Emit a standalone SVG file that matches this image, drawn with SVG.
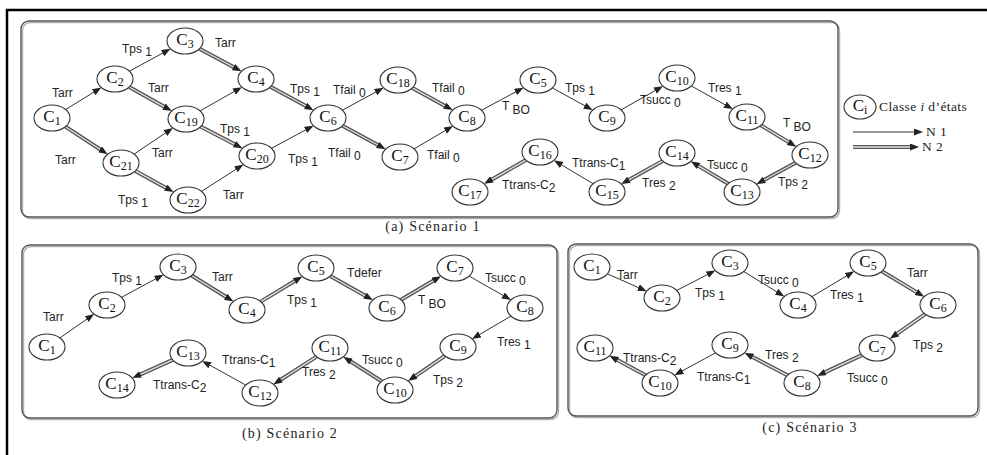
<svg xmlns="http://www.w3.org/2000/svg" width="987" height="455" viewBox="0 0 987 455">
<defs>
<marker id="ah" markerUnits="userSpaceOnUse" markerWidth="10" markerHeight="8" refX="3" refY="3.5" orient="auto"><path d="M0,0 L9,3.5 L0,7 z" fill="#222"/></marker>
</defs>
<style>
.frame{fill:none;stroke:#000;stroke-width:2.5}
.panel{fill:none;stroke:#555;stroke-width:1.4}
.shadow{fill:none;stroke:#b0b0b0;stroke-width:1.4}
.n ellipse{fill:#fff;stroke:#333;stroke-width:1.1}
.n text{font-family:"Liberation Serif",serif;font-size:17px;fill:#111;text-anchor:middle}
.n tspan{font-size:12px}
.s{fill:none;stroke:#333;stroke-width:1;marker-end:url(#ah)}
.do{fill:none;stroke:#555;stroke-width:4}
.di{fill:none;stroke:#e6e6e6;stroke-width:1.3;marker-end:url(#ah)}
.lb{font-family:"Liberation Sans",Arial,sans-serif;font-size:12px;fill:#222}
.cap{font-family:"Liberation Serif",serif;font-size:14px;fill:#222;text-anchor:middle;letter-spacing:1.2px}
.leg{font-family:"Liberation Serif",serif;font-size:13.5px;fill:#222;letter-spacing:0.4px}
</style>
<rect width="987" height="455" fill="#fff"/>
<path class="frame" d="M7,455 L7,10 L987,10"/>

<g id="panels">
<rect class="shadow" x="22.5" y="22.5" width="817" height="196" rx="8"/>
<rect class="panel" x="21" y="21" width="817" height="196" rx="8"/>
<rect class="shadow" x="23.5" y="246.5" width="535" height="173" rx="8"/>
<rect class="panel" x="22" y="245" width="535" height="173" rx="8"/>
<rect class="shadow" x="569.5" y="245.5" width="410" height="172" rx="8"/>
<rect class="panel" x="568" y="244" width="410" height="172" rx="8"/>
<text class="cap" x="433" y="231">(a) Scénario 1</text>
<text class="cap" x="290" y="438">(b) Scénario 2</text>
<text class="cap" x="810" y="432">(c) Scénario 3</text>
</g>

<g id="connectors">
<!-- panel a -->
<path class="s" d="M65.7,109.5 L96.2,90.7"/>
<path class="do" d="M65.4,126.7 L102.6,151"/><path class="di" d="M65.4,126.7 L102.6,151"/>
<path class="s" d="M129.4,71.2 L165.3,51.7"/>
<path class="do" d="M129.2,87 L166.6,108.1"/><path class="di" d="M129.2,87 L166.6,108.1"/>
<path class="do" d="M199.5,48.7 L236.2,68.5"/><path class="di" d="M199.5,48.7 L236.2,68.5"/>
<path class="s" d="M134.1,154.1 L167.9,131.3"/>
<path class="s" d="M200.1,110.9 L236.7,90.1"/>
<path class="do" d="M200.6,126.6 L237.1,145.6"/><path class="di" d="M200.6,126.6 L237.1,145.6"/>
<path class="do" d="M135.3,170.9 L168.4,189.2"/><path class="di" d="M135.3,170.9 L168.4,189.2"/>
<path class="s" d="M201.5,191.4 L238.4,167.8"/>
<path class="do" d="M270.4,86.8 L308.3,107.3"/><path class="di" d="M270.4,86.8 L308.3,107.3"/>
<path class="s" d="M271.5,148.3 L308.2,128.5"/>
<path class="s" d="M342.4,110.2 L378.3,90.7"/>
<path class="do" d="M342.4,125.8 L380.3,146.3"/><path class="di" d="M342.4,125.8 L380.3,146.3"/>
<path class="do" d="M412.3,87.9 L447.4,107.2"/><path class="di" d="M412.3,87.9 L447.4,107.2"/>
<path class="s" d="M414,148.9 L447.8,129.1"/>
<path class="s" d="M481.5,110.3 L518.2,90.5"/>
<path class="s" d="M552.3,87.9 L587.4,107.2"/>
<path class="s" d="M621.1,109.9 L657.7,89.1"/>
<path class="s" d="M691.2,85.9 L727.6,106.2"/>
<path class="do" d="M760.8,125.3 L791.1,143.6"/><path class="di" d="M760.8,125.3 L791.1,143.6"/>
<path class="do" d="M795.6,162.8 L761.7,181.3"/><path class="di" d="M795.6,162.8 L761.7,181.3"/>
<path class="do" d="M728.2,183.7 L695.9,164.4"/><path class="di" d="M728.2,183.7 L695.9,164.4"/>
<path class="do" d="M662.8,160.9 L626.4,181.2"/><path class="di" d="M662.8,160.9 L626.4,181.2"/>
<path class="s" d="M593.1,183.7 L559.1,163.4"/>
<path class="do" d="M525.9,160.1 L489.3,180.9"/><path class="di" d="M525.9,160.1 L489.3,180.9"/>
<!-- panel b -->
<path class="s" d="M59.9,337.9 L89.2,317.5"/>
<path class="s" d="M121.5,297.3 L158.2,277.5"/>
<path class="do" d="M191.6,275.5 L228.3,298.3"/><path class="di" d="M191.6,275.5 L228.3,298.3"/>
<path class="do" d="M260.7,301.6 L297.2,279.5"/><path class="di" d="M260.7,301.6 L297.2,279.5"/>
<path class="do" d="M330.2,276 L367.6,297.1"/><path class="di" d="M330.2,276 L367.6,297.1"/>
<path class="do" d="M401,299.8 L435.8,279.2"/><path class="di" d="M401,299.8 L435.8,279.2"/>
<path class="s" d="M469.1,276.1 L505.7,296.9"/>
<path class="s" d="M511,316.1 L477.2,335.9"/>
<path class="do" d="M444.9,355.9 L413.1,377.7"/><path class="di" d="M444.9,355.9 L413.1,377.7"/>
<path class="do" d="M381.6,381.3 L348.4,360"/><path class="di" d="M381.6,381.3 L348.4,360"/>
<path class="do" d="M316.6,356.6 L278.4,381.2"/><path class="di" d="M316.6,356.6 L278.4,381.2"/>
<path class="s" d="M245.8,385.1 L207.4,363.8"/>
<path class="do" d="M172.7,359.9 L137.8,375.6"/><path class="di" d="M172.7,359.9 L137.8,375.6"/>
<!-- panel c -->
<path class="s" d="M607.3,273.8 L641.2,288.8"/>
<path class="s" d="M676.7,290.4 L710,273.3"/>
<path class="s" d="M743.7,271.5 L779.2,293.3"/>
<path class="s" d="M811.9,296.7 L849,274.4"/>
<path class="do" d="M881.9,271.3 L919,293.6"/><path class="di" d="M881.9,271.3 L919,293.6"/>
<path class="do" d="M925.1,314.1 L894.8,335.4"/><path class="di" d="M925.1,314.1 L894.8,335.4"/>
<path class="do" d="M861.9,355.1 L822.5,373.4"/><path class="di" d="M861.9,355.1 L822.5,373.4"/>
<path class="do" d="M787.5,375.3 L749.8,355.5"/><path class="di" d="M787.5,375.3 L749.8,355.5"/>
<path class="s" d="M715.6,352.8 L679.7,372.3"/>
<path class="do" d="M645.6,375.2 L614.7,358.6"/><path class="di" d="M645.6,375.2 L614.7,358.6"/>
<!-- legend -->
<path class="s" d="M853,132 L917,132"/>
<path class="do" d="M853,147 L913,147"/><path class="di" d="M853,147 L913,147"/>
</g>

<g id="edge-labels" class="lb">
<text x="52" y="97">Tarr</text>
<text x="55" y="164">Tarr</text>
<text x="122" y="53">Tps <tspan dy="3">1</tspan></text>
<text x="148" y="92">Tarr</text>
<text x="215" y="47">Tarr</text>
<text x="152" y="157">Tarr</text>
<text x="220" y="133">Tps <tspan dy="3">1</tspan></text>
<text x="118" y="204">Tps <tspan dy="3">1</tspan></text>
<text x="223" y="199">Tarr</text>
<text x="290" y="93">Tps <tspan dy="3">1</tspan></text>
<text x="288" y="163">Tps <tspan dy="3">1</tspan></text>
<text x="333" y="94">Tfail <tspan dy="3">0</tspan></text>
<text x="328" y="157">Tfail <tspan dy="3">0</tspan></text>
<text x="432" y="92">Tfail <tspan dy="3">0</tspan></text>
<text x="427" y="159">Tfail <tspan dy="3">0</tspan></text>
<text x="502" y="110">T <tspan dy="4">BO</tspan></text>
<text x="565" y="92">Tps <tspan dy="3">1</tspan></text>
<text x="640" y="104">Tsucc <tspan dy="3">0</tspan></text>
<text x="708" y="92">Tres <tspan dy="3">1</tspan></text>
<text x="783" y="127">T <tspan dy="4">BO</tspan></text>
<text x="778" y="186">Tps <tspan dy="3">2</tspan></text>
<text x="707" y="169">Tsucc <tspan dy="3">0</tspan></text>
<text x="642" y="187">Tres <tspan dy="3">2</tspan></text>
<text x="572" y="167">Ttrans-C<tspan dy="3">1</tspan></text>
<text x="502" y="189">Ttrans-C<tspan dy="3">2</tspan></text>

<text x="43" y="321">Tarr</text>
<text x="112" y="282">Tps <tspan dy="3">1</tspan></text>
<text x="212" y="281">Tarr</text>
<text x="287" y="304">Tps <tspan dy="3">1</tspan></text>
<text x="347" y="277">Tdefer</text>
<text x="418" y="304">T <tspan dy="4">BO</tspan></text>
<text x="485" y="282">Tsucc <tspan dy="3">0</tspan></text>
<text x="497" y="346">Tres <tspan dy="3">1</tspan></text>
<text x="433" y="384">Tps <tspan dy="3">2</tspan></text>
<text x="362" y="364">Tsucc <tspan dy="3">0</tspan></text>
<text x="302" y="376">Tres <tspan dy="3">2</tspan></text>
<text x="222" y="364">Ttrans-C<tspan dy="3">1</tspan></text>
<text x="153" y="389">Ttrans-C<tspan dy="3">2</tspan></text>

<text x="617" y="279">Tarr</text>
<text x="695" y="297">Tps <tspan dy="3">1</tspan></text>
<text x="758" y="284">Tsucc <tspan dy="3">0</tspan></text>
<text x="830" y="299">Tres <tspan dy="3">1</tspan></text>
<text x="907" y="277">Tarr</text>
<text x="913" y="349">Tps <tspan dy="3">2</tspan></text>
<text x="847" y="382">Tsucc <tspan dy="3">0</tspan></text>
<text x="765" y="359">Tres <tspan dy="3">2</tspan></text>
<text x="697" y="381">Ttrans-C<tspan dy="3">1</tspan></text>
<text x="623" y="362">Ttrans-C<tspan dy="3">2</tspan></text>
</g>

<!-- panel a nodes -->
<g id="a-C1" class="n"><ellipse cx="52" cy="118" rx="18" ry="13"/><text x="52" y="122">C<tspan dy="3">1</tspan></text></g>
<g id="a-C2" class="n"><ellipse cx="115" cy="79" rx="18" ry="13"/><text x="115" y="83">C<tspan dy="3">2</tspan></text></g>
<g id="a-C3" class="n"><ellipse cx="185" cy="41" rx="18" ry="13"/><text x="185" y="45">C<tspan dy="3">3</tspan></text></g>
<g id="a-C4" class="n"><ellipse cx="256" cy="79" rx="18" ry="13"/><text x="256" y="83">C<tspan dy="3">4</tspan></text></g>
<g id="a-C19" class="n"><ellipse cx="186" cy="119" rx="18" ry="13"/><text x="186" y="123">C<tspan dy="3">19</tspan></text></g>
<g id="a-C21" class="n"><ellipse cx="121" cy="163" rx="18" ry="13"/><text x="121" y="167">C<tspan dy="3">21</tspan></text></g>
<g id="a-C20" class="n"><ellipse cx="257" cy="156" rx="18" ry="13"/><text x="257" y="160">C<tspan dy="3">20</tspan></text></g>
<g id="a-C22" class="n"><ellipse cx="188" cy="200" rx="18" ry="13"/><text x="188" y="204">C<tspan dy="3">22</tspan></text></g>
<g id="a-C6" class="n"><ellipse cx="328" cy="118" rx="18" ry="13"/><text x="328" y="122">C<tspan dy="3">6</tspan></text></g>
<g id="a-C18" class="n"><ellipse cx="398" cy="80" rx="18" ry="13"/><text x="398" y="84">C<tspan dy="3">18</tspan></text></g>
<g id="a-C7" class="n"><ellipse cx="400" cy="157" rx="18" ry="13"/><text x="400" y="161">C<tspan dy="3">7</tspan></text></g>
<g id="a-C8" class="n"><ellipse cx="467" cy="118" rx="18" ry="13"/><text x="467" y="122">C<tspan dy="3">8</tspan></text></g>
<g id="a-C5" class="n"><ellipse cx="538" cy="80" rx="18" ry="13"/><text x="538" y="84">C<tspan dy="3">5</tspan></text></g>
<g id="a-C9" class="n"><ellipse cx="607" cy="118" rx="18" ry="13"/><text x="607" y="122">C<tspan dy="3">9</tspan></text></g>
<g id="a-C10" class="n"><ellipse cx="677" cy="78" rx="18" ry="13"/><text x="677" y="82">C<tspan dy="3">10</tspan></text></g>
<g id="a-C11" class="n"><ellipse cx="747" cy="117" rx="18" ry="13"/><text x="747" y="121">C<tspan dy="3">11</tspan></text></g>
<g id="a-C12" class="n"><ellipse cx="810" cy="155" rx="18" ry="13"/><text x="810" y="159">C<tspan dy="3">12</tspan></text></g>
<g id="a-C13" class="n"><ellipse cx="742" cy="192" rx="18" ry="13"/><text x="742" y="196">C<tspan dy="3">13</tspan></text></g>
<g id="a-C14" class="n"><ellipse cx="677" cy="153" rx="18" ry="13"/><text x="677" y="157">C<tspan dy="3">14</tspan></text></g>
<g id="a-C15" class="n"><ellipse cx="607" cy="192" rx="18" ry="13"/><text x="607" y="196">C<tspan dy="3">15</tspan></text></g>
<g id="a-C16" class="n"><ellipse cx="540" cy="152" rx="18" ry="13"/><text x="540" y="156">C<tspan dy="3">16</tspan></text></g>
<g id="a-C17" class="n"><ellipse cx="470" cy="192" rx="18" ry="13"/><text x="470" y="196">C<tspan dy="3">17</tspan></text></g>

<!-- panel b nodes -->
<g id="b-C1" class="n"><ellipse cx="47" cy="347" rx="18" ry="13"/><text x="47" y="351">C<tspan dy="3">1</tspan></text></g>
<g id="b-C2" class="n"><ellipse cx="107" cy="305" rx="18" ry="13"/><text x="107" y="309">C<tspan dy="3">2</tspan></text></g>
<g id="b-C3" class="n"><ellipse cx="178" cy="267" rx="18" ry="13"/><text x="178" y="271">C<tspan dy="3">3</tspan></text></g>
<g id="b-C4" class="n"><ellipse cx="247" cy="310" rx="18" ry="13"/><text x="247" y="314">C<tspan dy="3">4</tspan></text></g>
<g id="b-C5" class="n"><ellipse cx="316" cy="268" rx="18" ry="13"/><text x="316" y="272">C<tspan dy="3">5</tspan></text></g>
<g id="b-C6" class="n"><ellipse cx="387" cy="308" rx="18" ry="13"/><text x="387" y="312">C<tspan dy="3">6</tspan></text></g>
<g id="b-C7" class="n"><ellipse cx="455" cy="268" rx="18" ry="13"/><text x="455" y="272">C<tspan dy="3">7</tspan></text></g>
<g id="b-C8" class="n"><ellipse cx="525" cy="308" rx="18" ry="13"/><text x="525" y="312">C<tspan dy="3">8</tspan></text></g>
<g id="b-C9" class="n"><ellipse cx="458" cy="347" rx="18" ry="13"/><text x="458" y="351">C<tspan dy="3">9</tspan></text></g>
<g id="b-C10" class="n"><ellipse cx="395" cy="390" rx="18" ry="13"/><text x="395" y="394">C<tspan dy="3">10</tspan></text></g>
<g id="b-C11" class="n"><ellipse cx="330" cy="348" rx="18" ry="13"/><text x="330" y="352">C<tspan dy="3">11</tspan></text></g>
<g id="b-C12" class="n"><ellipse cx="260" cy="393" rx="18" ry="13"/><text x="260" y="397">C<tspan dy="3">12</tspan></text></g>
<g id="b-C13" class="n"><ellipse cx="188" cy="353" rx="18" ry="13"/><text x="188" y="357">C<tspan dy="3">13</tspan></text></g>
<g id="b-C14" class="n"><ellipse cx="117" cy="385" rx="18" ry="13"/><text x="117" y="389">C<tspan dy="3">14</tspan></text></g>

<!-- panel c nodes -->
<g id="c-C1" class="n"><ellipse cx="592" cy="267" rx="18" ry="13"/><text x="592" y="271">C<tspan dy="3">1</tspan></text></g>
<g id="c-C2" class="n"><ellipse cx="662" cy="298" rx="18" ry="13"/><text x="662" y="302">C<tspan dy="3">2</tspan></text></g>
<g id="c-C3" class="n"><ellipse cx="730" cy="263" rx="18" ry="13"/><text x="730" y="267">C<tspan dy="3">3</tspan></text></g>
<g id="c-C4" class="n"><ellipse cx="798" cy="305" rx="18" ry="13"/><text x="798" y="309">C<tspan dy="3">4</tspan></text></g>
<g id="c-C5" class="n"><ellipse cx="868" cy="263" rx="18" ry="13"/><text x="868" y="267">C<tspan dy="3">5</tspan></text></g>
<g id="c-C6" class="n"><ellipse cx="938" cy="305" rx="18" ry="13"/><text x="938" y="309">C<tspan dy="3">6</tspan></text></g>
<g id="c-C7" class="n"><ellipse cx="877" cy="348" rx="18" ry="13"/><text x="877" y="352">C<tspan dy="3">7</tspan></text></g>
<g id="c-C8" class="n"><ellipse cx="802" cy="383" rx="18" ry="13"/><text x="802" y="387">C<tspan dy="3">8</tspan></text></g>
<g id="c-C9" class="n"><ellipse cx="730" cy="345" rx="18" ry="13"/><text x="730" y="349">C<tspan dy="3">9</tspan></text></g>
<g id="c-C10" class="n"><ellipse cx="660" cy="383" rx="18" ry="13"/><text x="660" y="387">C<tspan dy="3">10</tspan></text></g>
<g id="c-C11" class="n"><ellipse cx="595" cy="348" rx="18" ry="13"/><text x="595" y="352">C<tspan dy="3">11</tspan></text></g>

<!-- legend -->
<g id="legend-Ci" class="n"><ellipse cx="860" cy="107" rx="16" ry="12"/><text x="860" y="111">C<tspan dy="3">i</tspan></text></g>
<g id="legend-text" class="leg">
<text x="879" y="111">Classe <tspan font-style="italic">i</tspan> d’états</text>
<text x="926" y="136">N 1</text>
<text x="922" y="151">N 2</text>
</g>
</svg>
